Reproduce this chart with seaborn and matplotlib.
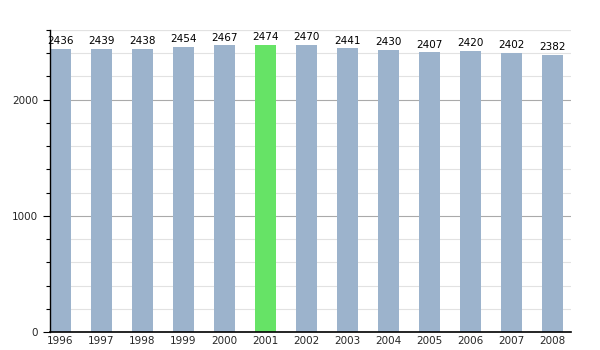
import matplotlib
matplotlib.use("Agg")
import matplotlib.pyplot as plt
import seaborn as sns
import pandas as pd
from matplotlib.ticker import MultipleLocator

years = ["1996", "1997", "1998", "1999", "2000", "2001", "2002",
         "2003", "2004", "2005", "2006", "2007", "2008"]
population = [2436, 2439, 2438, 2454, 2467, 2474, 2470,
              2441, 2430, 2407, 2420, 2402, 2382]
highlight_year = "2001"

sns.set_style("white")
plt.rcParams['font.family'] = ['DejaVu Sans']

df = pd.DataFrame({"year": years, "pop": population})
palette = {y: ("#66e366" if y == highlight_year else "#9cb3cc") for y in years}

fig = plt.figure(figsize=(6, 3.5), dpi=100)
ax = fig.add_axes([0.0833, 0.0514, 0.8687, 0.8629])

ax.set_ylim(0, 2600)
ax.yaxis.set_major_locator(MultipleLocator(1000))
ax.yaxis.set_minor_locator(MultipleLocator(200))
ax.grid(which="major", axis="y", color="#aaaaaa", linewidth=0.8)
ax.grid(which="minor", axis="y", color="#e2e2e2", linewidth=0.8)
ax.set_axisbelow(True)

sns.barplot(data=df, x="year", y="pop", hue="year", palette=palette,
            legend=False, width=0.5, ax=ax, saturation=1, edgecolor="none")

for i, v in enumerate(population):
    ax.text(i, v + 25, str(v), ha="center", va="bottom", fontsize=7.5, color="black")

ax.set_xlim(-0.25, 12.45)
ax.set_xlabel("")
ax.set_ylabel("")
for s in ["top", "right"]:
    ax.spines[s].set_visible(False)
ax.spines["left"].set_color("black")
ax.spines["bottom"].set_color("black")
ax.spines["left"].set_linewidth(1)
ax.spines["bottom"].set_linewidth(1.2)
ax.tick_params(axis="x", length=0, labelsize=7.5, pad=3)
ax.tick_params(axis="y", which="major", length=5, width=0.8, labelsize=7.5, left=True, color="black")
ax.tick_params(axis="y", which="minor", length=3, width=0.8, left=True, color="black")
ax.axhline(2600, color="#e2e2e2", linewidth=0.8, zorder=0)

fig.savefig("out.png", dpi=100)
